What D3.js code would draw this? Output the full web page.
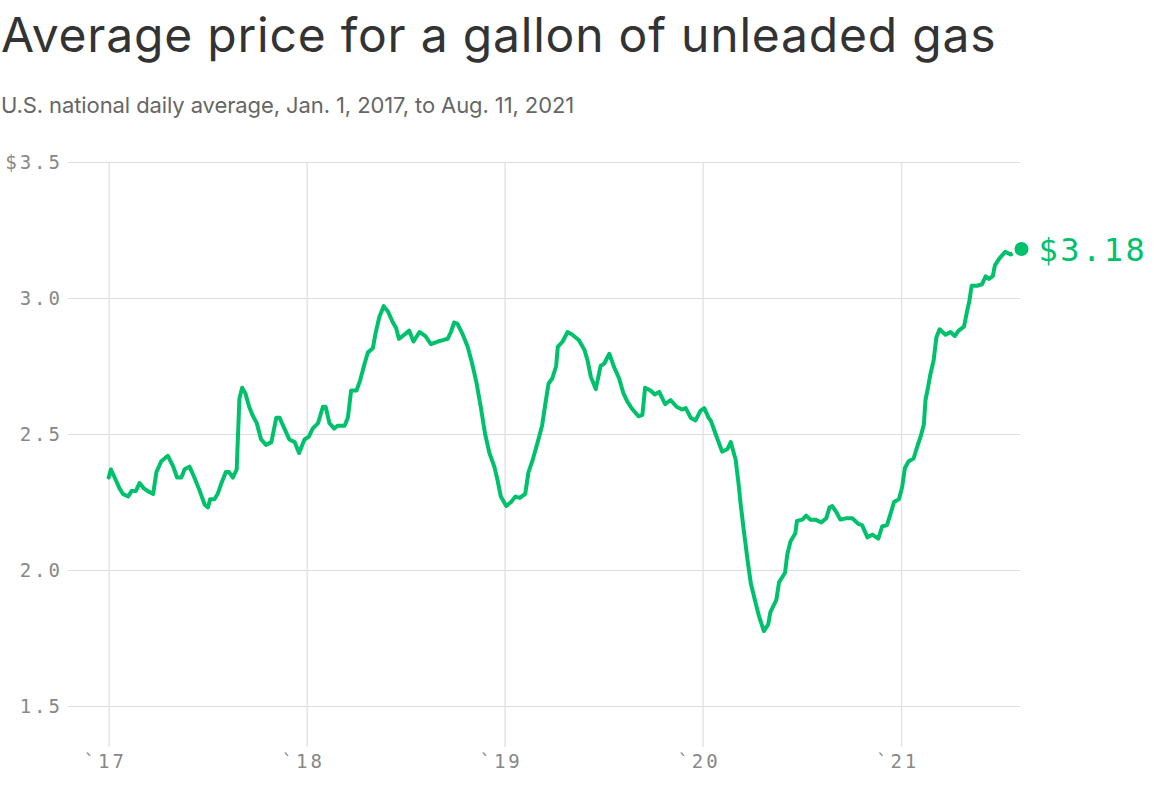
<!DOCTYPE html>
<html>
<head>
<meta charset="utf-8">
<script src="https://cdn.jsdelivr.net/npm/d3@7"></script>
<style>
  html, body { margin: 0; padding: 0; background: #fff; }
  svg { display: block; }
</style>
</head>
<body>
<svg id="chart" width="1154" height="788"></svg>
<script>
const titleText = "Average price for a gallon of unleaded gas";
const subtitleText = "U.S. national daily average, Jan. 1, 2017, to Aug. 11, 2021";

const yTicks = [1.5, 2.0, 2.5, 3.0, 3.5];
const yTickLabels = ["1.5", "2.0", "2.5", "3.0", "$3.5"];
const xTicks = ["2017-01-01", "2018-01-01", "2019-01-01", "2020-01-01", "2021-01-01"];
const xTickLabels = ["`17", "`18", "`19", "`20", "`21"];

const dates = [
"2017-01-01","2017-01-05","2017-01-12","2017-01-21","2017-01-27","2017-02-06","2017-02-12","2017-02-20","2017-02-27","2017-03-07",
"2017-03-14","2017-03-24","2017-03-30","2017-04-08","2017-04-20","2017-04-30","2017-05-07","2017-05-15","2017-05-21","2017-05-30",
"2017-06-08","2017-06-18","2017-06-27","2017-07-03","2017-07-07","2017-07-15","2017-07-21","2017-07-28","2017-08-05","2017-08-11",
"2017-08-18","2017-08-25","2017-08-30","2017-09-04","2017-09-10","2017-09-17","2017-09-23","2017-10-01","2017-10-09","2017-10-18",
"2017-10-28","2017-11-06","2017-11-12","2017-11-21","2017-11-30","2017-12-10","2017-12-18","2017-12-28",
"2018-01-05","2018-01-12","2018-01-22","2018-01-31","2018-02-05","2018-02-12","2018-02-21","2018-02-27","2018-03-12","2018-03-18",
"2018-03-24","2018-04-03","2018-04-10","2018-04-18","2018-04-24","2018-05-03","2018-05-08","2018-05-15","2018-05-23","2018-05-31",
"2018-06-09","2018-06-15","2018-06-20","2018-06-27","2018-07-03","2018-07-09","2018-07-17","2018-07-28","2018-08-08","2018-08-18",
"2018-08-31","2018-09-09","2018-09-18","2018-09-24","2018-09-30","2018-10-06","2018-10-16","2018-10-25","2018-11-02","2018-11-10",
"2018-11-18","2018-11-26","2018-12-04","2018-12-13","2018-12-19","2018-12-25",
"2019-01-04","2019-01-13","2019-01-21","2019-01-29","2019-02-08","2019-02-14","2019-02-21","2019-03-03","2019-03-11","2019-03-17",
"2019-03-23","2019-03-30","2019-04-06","2019-04-09","2019-04-18","2019-04-27","2019-05-06","2019-05-18","2019-05-28","2019-06-03",
"2019-06-09","2019-06-18","2019-06-27","2019-07-04","2019-07-13","2019-07-22","2019-07-31","2019-08-08","2019-08-15","2019-08-25",
"2019-09-05","2019-09-12","2019-09-17","2019-09-27","2019-10-05","2019-10-13","2019-10-24","2019-11-03","2019-11-14","2019-11-24",
"2019-12-01","2019-12-10","2019-12-19","2019-12-28",
"2020-01-04","2020-01-12","2020-01-16","2020-01-25","2020-02-06","2020-02-16","2020-02-22","2020-03-02","2020-03-08","2020-03-11",
"2020-03-17","2020-03-24","2020-03-30","2020-04-07","2020-04-14","2020-04-23","2020-05-01","2020-05-05","2020-05-16","2020-05-21",
"2020-06-01","2020-06-05","2020-06-11","2020-06-20","2020-06-23","2020-07-03","2020-07-10","2020-07-18","2020-07-27","2020-08-07",
"2020-08-16","2020-08-22","2020-08-27","2020-09-03","2020-09-11","2020-09-21","2020-10-03","2020-10-14","2020-10-21","2020-10-31",
"2020-11-09","2020-11-20","2020-11-27","2020-12-06","2020-12-13","2020-12-19","2020-12-28",
"2021-01-03","2021-01-08","2021-01-15","2021-01-24","2021-01-31","2021-02-06","2021-02-12","2021-02-15","2021-02-20","2021-02-24",
"2021-03-02","2021-03-07","2021-03-13","2021-03-24","2021-04-02","2021-04-10","2021-04-17","2021-04-27","2021-05-03","2021-05-07",
"2021-05-11","2021-05-21","2021-05-30","2021-06-06","2021-06-12","2021-06-19","2021-06-23","2021-07-01","2021-07-12","2021-07-22",
"2021-08-11"
];

const prices = [
2.34,2.37,2.34,2.30,2.28,2.27,2.29,2.29,2.32,2.30,
2.29,2.28,2.36,2.40,2.42,2.38,2.34,2.34,2.37,2.38,
2.34,2.29,2.24,2.23,2.26,2.26,2.28,2.32,2.36,2.36,
2.34,2.37,2.63,2.67,2.65,2.60,2.57,2.54,2.48,2.46,
2.47,2.56,2.56,2.52,2.48,2.47,2.43,2.48,
2.49,2.52,2.54,2.60,2.60,2.54,2.52,2.53,2.53,2.56,
2.66,2.66,2.70,2.76,2.80,2.815,2.87,2.93,2.97,2.95,
2.91,2.89,2.85,2.86,2.87,2.88,2.84,2.875,2.86,2.83,
2.84,2.845,2.85,2.875,2.91,2.905,2.865,2.82,2.76,2.69,
2.60,2.50,2.43,2.38,2.33,2.27,
2.235,2.25,2.27,2.265,2.28,2.36,2.40,2.47,2.53,2.61,
2.685,2.705,2.75,2.82,2.84,2.875,2.865,2.845,2.81,2.77,
2.71,2.665,2.75,2.76,2.795,2.745,2.705,2.65,2.62,2.59,
2.565,2.57,2.67,2.66,2.645,2.655,2.61,2.625,2.60,2.59,
2.595,2.56,2.55,2.585,
2.595,2.56,2.55,2.50,2.435,2.445,2.47,2.405,2.305,2.245,
2.145,2.035,1.95,1.885,1.83,1.775,1.80,1.845,1.89,1.955,
1.99,2.055,2.105,2.135,2.18,2.185,2.20,2.185,2.185,2.175,
2.19,2.23,2.235,2.215,2.185,2.19,2.19,2.17,2.165,2.12,
2.13,2.115,2.16,2.165,2.21,2.25,2.26,
2.305,2.375,2.40,2.41,2.455,2.49,2.535,2.625,2.675,2.72,
2.77,2.855,2.885,2.865,2.875,2.86,2.88,2.895,2.955,2.99,
3.045,3.045,3.05,3.08,3.07,3.08,3.12,3.145,3.17,3.16,
3.18
];

const lastLabel = "$3.18";

const parse = d3.timeParse("%Y-%m-%d");
const data = dates.map((d, i) => ({ date: parse(d), value: prices[i] }));

const svg = d3.select("#chart");
const green = "#00c16b";

const x = d3.scaleTime()
  .domain([parse("2017-01-01"), parse("2021-08-11")])
  .range([108.7, 1021.5]);
const y = d3.scaleLinear().domain([1.5, 3.5]).range([706, 162]);

// Title
svg.append("text")
  .attr("x", 1).attr("y", 52)
  .attr("font-family", "Inter, 'Noto Sans', sans-serif")
  .attr("font-size", 48)
  .attr("letter-spacing", 0.8)
  .attr("fill", "#333")
  .text(titleText);

svg.append("text")
  .attr("x", 1).attr("y", 113)
  .attr("font-family", "Inter, 'Noto Sans', sans-serif")
  .attr("font-size", 22)
  .attr("letter-spacing", -0.1)
  .attr("fill", "#666")
  .text(subtitleText);

// Horizontal grid + y labels
const yAxis = d3.axisLeft(y)
  .tickValues(yTicks)
  .tickSize(-(1020 - 68))
  .tickFormat((d, i) => yTickLabels[i]);

const gy = svg.append("g")
  .attr("transform", "translate(68,0)")
  .call(yAxis);
gy.select(".domain").remove();
gy.selectAll(".tick line").attr("stroke", "#dcdcdc").attr("stroke-width", 1);
gy.selectAll(".tick text")
  .attr("x", -5)
  .attr("font-family", "'DejaVu Sans Mono', monospace")
  .attr("font-size", 19)
  .attr("letter-spacing", 3)
  .attr("fill", "#888");

// Vertical grid + x labels
const xAxis = d3.axisBottom(x)
  .tickValues(xTicks.map(parse))
  .tickSize(-(747 - 162))
  .tickFormat((d, i) => xTickLabels[i]);

const gx = svg.append("g")
  .attr("transform", "translate(0,747)")
  .call(xAxis);
gx.select(".domain").remove();
gx.selectAll(".tick line").attr("stroke", "#e4e4e4").attr("stroke-width", 1.5);
gx.selectAll(".tick text")
  .attr("y", 8)
  .attr("dy", "0.71em")
  .attr("dx", -4)
  .attr("font-family", "'DejaVu Sans Mono', monospace")
  .attr("font-size", 19)
  .attr("letter-spacing", 3)
  .attr("fill", "#888");

// Line
const line = d3.line()
  .x(d => x(d.date))
  .y(d => y(d.value));

svg.append("path")
  .datum(data)
  .attr("fill", "none")
  .attr("stroke", green)
  .attr("stroke-width", 4)
  .attr("stroke-linejoin", "round")
  .attr("stroke-linecap", "round")
  .attr("d", line);

// End dot
const last = data[data.length - 1];
svg.append("circle")
  .attr("cx", x(last.date))
  .attr("cy", y(last.value))
  .attr("r", 8.5)
  .attr("fill", green)
  .attr("stroke", "#fff")
  .attr("stroke-width", 3);

svg.append("text")
  .attr("x", x(last.date) + 17)
  .attr("y", y(last.value))
  .attr("dy", "0.36em")
  .attr("font-family", "'DejaVu Sans Mono', monospace")
  .attr("font-size", 32)
  .attr("letter-spacing", 2.5)
  .attr("fill", green)
  .text(lastLabel);
</script>
</body>
</html>
